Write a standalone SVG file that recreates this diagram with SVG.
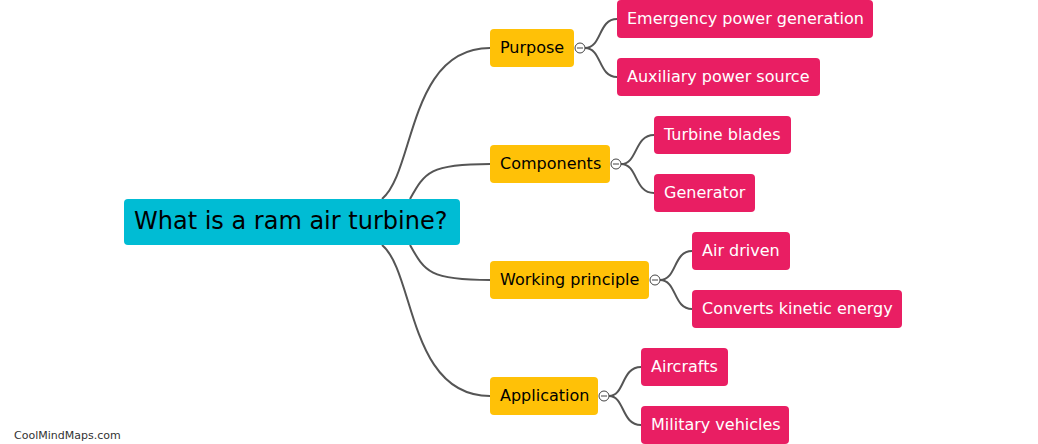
<svg xmlns="http://www.w3.org/2000/svg" width="1038" height="444" viewBox="0 0 1038 444">
<style>
text{font-family:"DejaVu Sans",Verdana,sans-serif;}
.root rect{fill:#00BCD4;}
.root text{font-size:24px;fill:#000;}
.l1 rect{fill:#FFC107;}
.l1 text{font-size:16px;fill:#000;}
.l2 rect{fill:#E91E63;}
.l2 text{font-size:16px;fill:#fff;}
.edges path{fill:none;stroke:#555;stroke-width:2;}
.tog{fill:#fff;stroke:#444;stroke-width:1;}
.tog-line{stroke:#444;stroke-width:1;}
.wm{font-size:11px;fill:#333;}
</style>
<g class="edges" id="connectors">
<path d="M382,199 C415,172 408,48 490,48"/>
<path d="M410,199 C425,172 430,164 490,164"/>
<path d="M410,245 C425,272 430,280 490,280"/>
<path d="M382,245 C415,272 408,396 490,396"/>
<path d="M585,48 C602,48 598,19 617,19"/>
<path d="M585,48 C602,48 598,77 617,77"/>
<path d="M621,164 C638,164 634,135 654,135"/>
<path d="M621,164 C638,164 634,193 654,193"/>
<path d="M660,280 C677,280 673,251 692,251"/>
<path d="M660,280 C677,280 673,309 692,309"/>
<path d="M609,396 C625,396 621,367 641,367"/>
<path d="M609,396 C625,396 621,425 641,425"/>
</g>
<g id="root" class="root">
<rect x="124" y="199" width="336" height="46" rx="4"/>
<text x="134" y="229">What is a ram air turbine?</text>
</g>
<g id="purpose" class="l1">
<rect x="490" y="29" width="84" height="38" rx="4"/>
<text x="500" y="53">Purpose</text>
<circle class="tog" cx="580" cy="48" r="5"/><line class="tog-line" x1="577" y1="48" x2="583" y2="48"/>
</g>
<g id="components" class="l1">
<rect x="490" y="145" width="120" height="38" rx="4"/>
<text x="500" y="169">Components</text>
<circle class="tog" cx="616" cy="164" r="5"/><line class="tog-line" x1="613" y1="164" x2="619" y2="164"/>
</g>
<g id="working" class="l1">
<rect x="490" y="261" width="159" height="38" rx="4"/>
<text x="500" y="285">Working principle</text>
<circle class="tog" cx="655" cy="280" r="5"/><line class="tog-line" x1="652" y1="280" x2="658" y2="280"/>
</g>
<g id="application" class="l1">
<rect x="490" y="377" width="108" height="38" rx="4"/>
<text x="500" y="401">Application</text>
<circle class="tog" cx="604" cy="396" r="5"/><line class="tog-line" x1="601" y1="396" x2="607" y2="396"/>
</g>
<g id="emergency" class="l2"><rect x="617" y="0" width="256" height="38" rx="4"/><text x="627" y="24">Emergency power generation</text></g>
<g id="auxiliary" class="l2"><rect x="617" y="58" width="203" height="38" rx="4"/><text x="627" y="82">Auxiliary power source</text></g>
<g id="blades" class="l2"><rect x="654" y="116" width="137" height="38" rx="4"/><text x="664" y="140">Turbine blades</text></g>
<g id="generator" class="l2"><rect x="654" y="174" width="101" height="38" rx="4"/><text x="664" y="198">Generator</text></g>
<g id="airdriven" class="l2"><rect x="692" y="232" width="98" height="38" rx="4"/><text x="702" y="256">Air driven</text></g>
<g id="kinetic" class="l2"><rect x="692" y="290" width="210" height="38" rx="4"/><text x="702" y="314">Converts kinetic energy</text></g>
<g id="aircrafts" class="l2"><rect x="641" y="348" width="87" height="38" rx="4"/><text x="651" y="372">Aircrafts</text></g>
<g id="military" class="l2"><rect x="641" y="406" width="148" height="38" rx="4"/><text x="651" y="430">Military vehicles</text></g>
<text class="wm" x="14" y="439">CoolMindMaps.com</text>
</svg>
